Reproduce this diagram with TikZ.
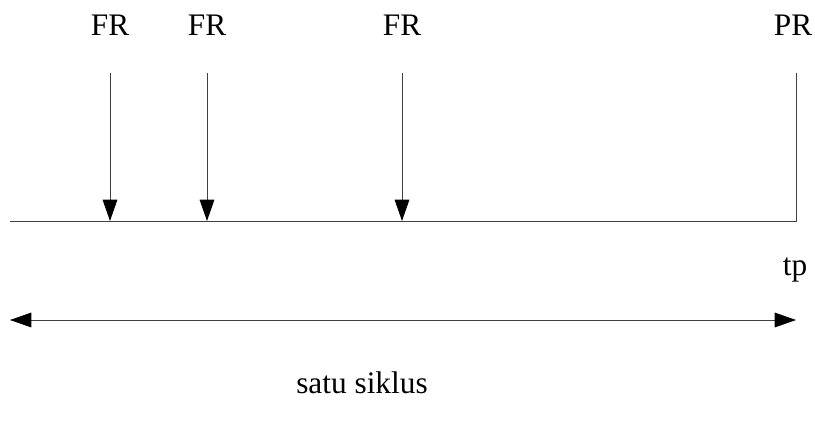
\documentclass[tikz,border=0pt]{standalone}
\usepackage{fontspec}
\setmainfont{Liberation Serif}
\usetikzlibrary{arrows.meta}
\begin{document}
\begin{tikzpicture}[x=0.75pt,y=-0.75pt,
  axis/.style={line width=0.7pt, draw=black!75},
  head/.tip={Triangle[length=16pt,width=11pt,color=black,fill=black]},
  tip/.style={-head},
  lbl/.style={font=\fontsize{23.5}{28}\selectfont, inner sep=0pt}]
\useasboundingbox (0,0) rectangle (815,421);
% time axis and end marker
\coordinate (L) at (10,221);
\coordinate (R) at (796,221);
\coordinate (Rtop) at (796,73);
\draw[axis] (L) -- (R) -- (Rtop);
% FR arrows
\coordinate (f1) at (110,73); \coordinate (b1) at (110,221);
\coordinate (f2) at (207,73); \coordinate (b2) at (207,221);
\coordinate (f3) at (402,73); \coordinate (b3) at (402,221);
\draw[axis,tip] (f1) -- (b1);
\draw[axis,tip] (f2) -- (b2);
\draw[axis,tip] (f3) -- (b3);
% labels
\node[lbl] (t1) at (110,25) {FR};
\node[lbl] (t2) at (207,25) {FR};
\node[lbl] (t3) at (402,25) {FR};
\node[lbl] (t4) at (793,25) {PR};
\node[lbl] (tp) at (795,270) {tp};
% cycle span
\coordinate (cl) at (10,320);
\coordinate (cr) at (796,320);
\draw[axis,head-head] (cl) -- (cr);
\node[lbl] (cyc) at (362,383) {satu siklus};
\end{tikzpicture}
\end{document}
